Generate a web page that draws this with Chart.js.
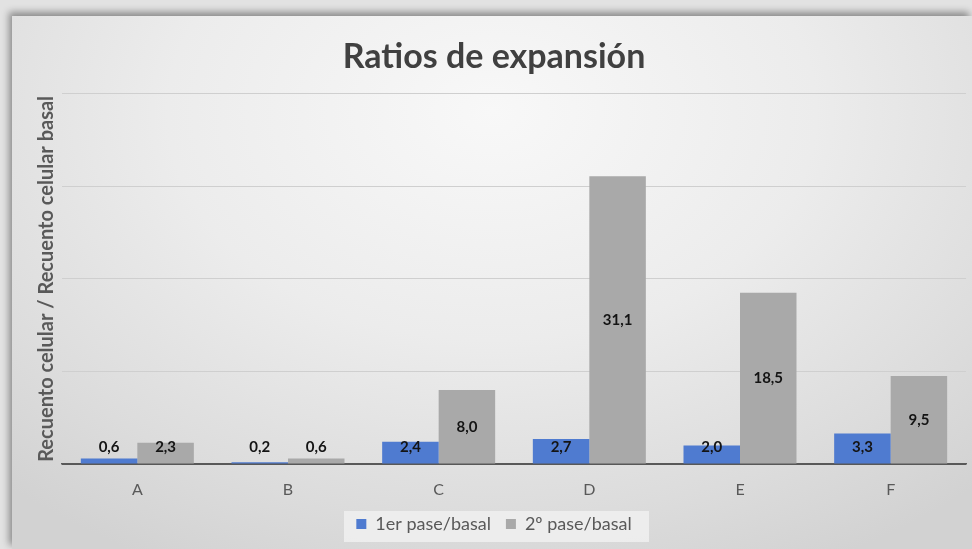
<!DOCTYPE html>
<html>
<head>
<meta charset="utf-8">
<script src="https://cdn.jsdelivr.net/npm/chart.js@4/dist/chart.umd.min.js"></script>
<style>
  html, body { margin: 0; padding: 0; width: 972px; height: 549px; overflow: hidden; background: #e2e2e2; }
  #panel {
    position: absolute; left: 12px; top: 16px; width: 960px; height: 533px;
    background: radial-gradient(ellipse 75% 95% at 50% 18%, #f8f8f8 0%, #ececec 45%, #dcdcdc 80%, #d2d2d2 100%);
    box-shadow: -3px -4px 7px rgba(0, 0, 0, 0.38);
  }
  #wrap { position: absolute; left: 0; top: 0; width: 972px; height: 549px; }
</style>
</head>
<body>
<div id="panel"></div>
<div id="wrap"><canvas id="chart" width="972" height="549"></canvas></div>
<script>
// Cell expansion ratios per sample
const categories = ['A', 'B', 'C', 'D', 'E', 'F'];
const firstPassRatio = [0.6, 0.2, 2.4, 2.7, 2.0, 3.3];
const secondPassRatio = [2.3, 0.6, 8.0, 31.1, 18.5, 9.5];
const seriesNames = ['1er pase/basal', '2º pase/basal'];
const yAxisRange = [0, 40];
const yAxisStep = 10;

const FONT = 'Lato, "Open Sans", sans-serif';

// Draws the value of every bar, centred in the bar but never lower than just above the axis
const barValueLabels = {
  id: 'barValueLabels',
  afterDatasetsDraw(chart) {
    const ctx = chart.ctx;
    ctx.save();
    ctx.font = 'bold 15px ' + FONT;
    ctx.fillStyle = '#141414';
    ctx.textAlign = 'center';
    ctx.textBaseline = 'middle';
    chart.data.datasets.forEach((ds, di) => {
      const meta = chart.getDatasetMeta(di);
      meta.data.forEach((bar, i) => {
        const v = ds.data[i];
        const y = Math.min((bar.y + bar.base) / 2, bar.base - 16);
        ctx.fillText(v.toFixed(1).replace('.', ','), bar.x, y);
      });
    });
    ctx.restore();
  }
};

// Light box behind the legend
const legendBackdrop = {
  id: 'legendBackdrop',
  beforeDraw(chart) {
    const lg = chart.legend;
    if (!lg || !lg.legendHitBoxes || !lg.legendHitBoxes.length) return;
    const hb = lg.legendHitBoxes[0];
    const cy = hb.top + hb.height / 2;
    const cx = (lg.left + lg.right) / 2;
    const ctx = chart.ctx;
    ctx.save();
    ctx.fillStyle = 'rgba(240,240,240,0.85)';
    ctx.fillRect(cx - 150, cy - 13, 305, 31);
    ctx.restore();
  }
};

new Chart(document.getElementById('chart'), {
  type: 'bar',
  data: {
    labels: categories,
    datasets: [
      {
        label: seriesNames[0],
        data: firstPassRatio,
        backgroundColor: '#4f7bd0',
        categoryPercentage: 0.75,
        barPercentage: 1.0
      },
      {
        label: seriesNames[1],
        data: secondPassRatio,
        backgroundColor: '#a9a9a9',
        categoryPercentage: 0.75,
        barPercentage: 1.0
      }
    ]
  },
  options: {
    responsive: false,
    animation: false,
    layout: { padding: { left: 22, right: 6, top: 0, bottom: 6 } },
    plugins: {
      title: {
        display: true,
        text: 'Ratios de expansión',
        color: '#404040',
        font: { family: FONT, size: 34, weight: 'bold' },
        padding: { top: 37, bottom: 16 }
      },
      legend: {
        position: 'bottom',
        labels: {
          color: '#595959',
          font: { family: FONT, size: 18 },
          boxWidth: 10,
          boxHeight: 10,
          padding: 15
        }
      },
      tooltip: { enabled: false }
    },
    scales: {
      x: {
        grid: { display: false, drawTicks: false },
        border: { color: '#595959', width: 1.5 },
        ticks: { color: '#595959', font: { family: FONT, size: 16 }, padding: 16 },
        afterFit: (scale) => { scale.height = 36; }
      },
      y: {
        min: yAxisRange[0],
        max: yAxisRange[1],
        ticks: { display: false, stepSize: yAxisStep },
        grid: {
          drawTicks: false,
          color: (c) => (c.tick && c.tick.value === 0 ? '#595959' : '#cfcfcf')
        },
        border: { display: false },
        title: {
          display: true,
          text: 'Recuento celular / Recuento celular basal',
          color: '#595959',
          font: { family: FONT, size: 20, weight: 'bold' },
          padding: { top: 13, bottom: 3 }
        }
      }
    }
  },
  plugins: [legendBackdrop, barValueLabels]
});
</script>
</body>
</html>
